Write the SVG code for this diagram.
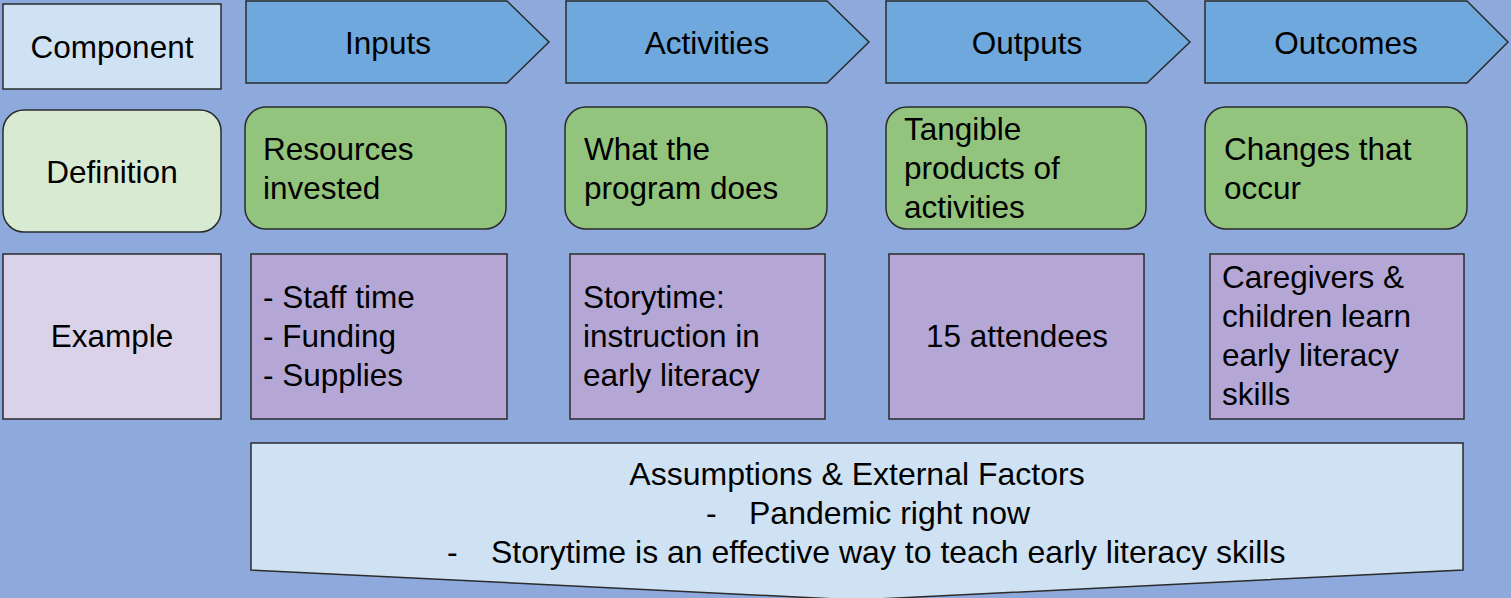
<svg xmlns="http://www.w3.org/2000/svg" width="1511" height="598" viewBox="0 0 1511 598">
  <style>
    .lbl { font-family: "Liberation Sans", Arial, sans-serif; font-size: 31.5px; fill: #000; }
    .mid { text-anchor: middle; }
    .edge { stroke: #2b2b2b; stroke-width: 1.5; stroke-linejoin: miter; }
    .head { fill: #6fa8dc; }
    .rowhead { fill: #cfe2f3; }
    .defhead { fill: #d9ead3; }
    .def { fill: #93c47d; }
    .exhead { fill: #d9d2e9; }
    .ex { fill: #b4a7d6; }
    .assume { fill: #cfe2f3; }
  </style>

  <!-- backdrop -->
  <rect x="0" y="0" width="1511" height="598" fill="#8eaadc"/>

  <!-- connectors: none, the chevrons carry the flow -->
  <g id="connectors"></g>

  <!-- row labels -->
  <g id="component">
    <rect class="rowhead edge" x="3" y="4" width="218" height="85"/>
    <text class="lbl mid" x="112" y="58">Component</text>
  </g>
  <g id="definition">
    <rect class="defhead edge" x="3" y="110" width="218" height="122" rx="21"/>
    <text class="lbl mid" x="112" y="183">Definition</text>
  </g>
  <g id="example">
    <rect class="exhead edge" x="3" y="254" width="218" height="165"/>
    <text class="lbl mid" x="112" y="347">Example</text>
  </g>

  <!-- stage chevrons -->
  <g id="inputs">
    <polygon class="head edge" points="246,1 507,1 549,42 507,83 246,83"/>
    <text class="lbl mid" x="388" y="54">Inputs</text>
  </g>
  <g id="activities">
    <polygon class="head edge" points="566,1 827,1 869,42 827,83 566,83"/>
    <text class="lbl mid" x="707" y="54">Activities</text>
  </g>
  <g id="outputs">
    <polygon class="head edge" points="886,1 1147,1 1190,42 1147,83 886,83"/>
    <text class="lbl mid" x="1027" y="54">Outputs</text>
  </g>
  <g id="outcomes">
    <polygon class="head edge" points="1205,1 1467,1 1508,42 1467,83 1205,83"/>
    <text class="lbl mid" x="1346" y="54">Outcomes</text>
  </g>

  <!-- definitions -->
  <g id="def-inputs">
    <rect class="def edge" x="245" y="107" width="261" height="122" rx="21"/>
    <text class="lbl" x="263" y="160">Resources</text>
    <text class="lbl" x="263" y="199">invested</text>
  </g>
  <g id="def-activities">
    <rect class="def edge" x="565" y="107" width="262" height="122" rx="21"/>
    <text class="lbl" x="584" y="160">What the</text>
    <text class="lbl" x="584" y="199">program does</text>
  </g>
  <g id="def-outputs">
    <rect class="def edge" x="886" y="107" width="260" height="122" rx="21"/>
    <text class="lbl" x="904" y="140">Tangible</text>
    <text class="lbl" x="904" y="179">products of</text>
    <text class="lbl" x="904" y="218">activities</text>
  </g>
  <g id="def-outcomes">
    <rect class="def edge" x="1205" y="107" width="262" height="122" rx="21"/>
    <text class="lbl" x="1224" y="160">Changes that</text>
    <text class="lbl" x="1224" y="199">occur</text>
  </g>

  <!-- examples -->
  <g id="ex-inputs">
    <rect class="ex edge" x="251" y="254" width="256" height="165"/>
    <text class="lbl" x="263" y="308">- Staff time</text>
    <text class="lbl" x="263" y="347">- Funding</text>
    <text class="lbl" x="263" y="386">- Supplies</text>
  </g>
  <g id="ex-activities">
    <rect class="ex edge" x="570" y="254" width="255" height="165"/>
    <text class="lbl" x="583" y="308">Storytime:</text>
    <text class="lbl" x="583" y="347">instruction in</text>
    <text class="lbl" x="583" y="386">early literacy</text>
  </g>
  <g id="ex-outputs">
    <rect class="ex edge" x="889" y="254" width="255" height="165"/>
    <text class="lbl mid" x="1017" y="347">15 attendees</text>
  </g>
  <g id="ex-outcomes">
    <rect class="ex edge" x="1210" y="254" width="254" height="165"/>
    <text class="lbl" x="1222" y="288">Caregivers &amp;</text>
    <text class="lbl" x="1222" y="327">children learn</text>
    <text class="lbl" x="1222" y="366">early literacy</text>
    <text class="lbl" x="1222" y="405">skills</text>
  </g>

  <!-- assumptions banner pointing down -->
  <g id="assumptions">
    <polygon class="assume edge" points="251,443 1463,443 1463,570 857,600 251,570"/>
    <text class="lbl mid" x="857" y="485" style="font-size:32px">Assumptions &amp; External Factors</text>
    <text class="lbl" y="524" style="font-size:32px"><tspan x="706">-</tspan><tspan x="749">Pandemic right now</tspan></text>
    <text class="lbl" y="563" style="font-size:32px"><tspan x="447">-</tspan><tspan x="491">Storytime is an effective way to teach early literacy skills</tspan></text>
  </g>
</svg>
